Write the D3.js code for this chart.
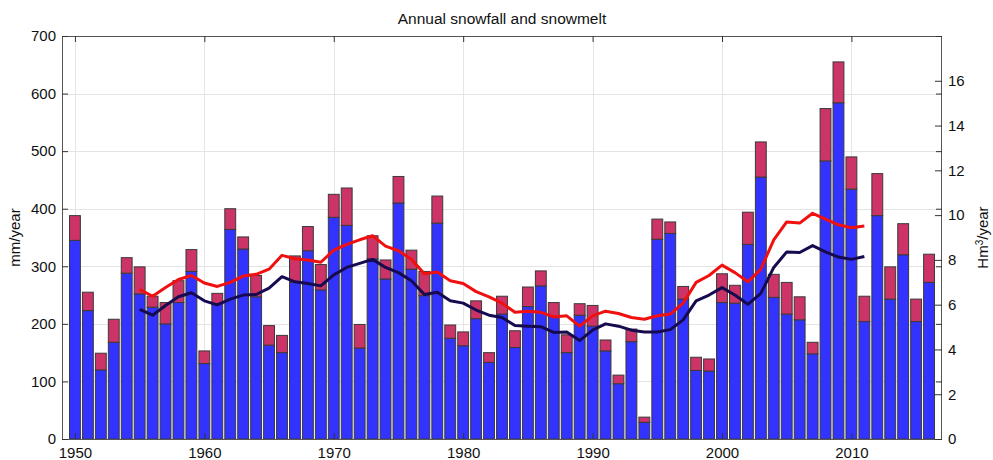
<!DOCTYPE html>
<html>
<head>
<meta charset="utf-8">
<script src="https://cdn.jsdelivr.net/npm/d3@7"></script>
<style>
  html, body { margin: 0; padding: 0; background: #fff; }
  svg { display: block; font-family: "Liberation Sans", Arial, Helvetica, sans-serif; }
</style>
</head>
<body>
<svg id="chart" width="993" height="460"></svg>
<script>
// Years of record
const years = d3.range(1950, 2017);

// Annual snowfall (mm/year) – full bar height
const snowfall = [
  388, 255, 149, 208, 315, 299, 248, 237, 275, 329,
  153, 253, 400, 351, 284, 197, 180, 318, 369, 303,
  425, 436, 199, 353, 311, 456, 328, 291, 422, 198,
  186, 240, 150, 248, 188, 264, 292, 237, 181, 235,
  232, 172, 111, 191, 38, 382, 377, 265, 142, 139,
  287, 267, 394, 516, 286, 272, 247, 168, 574, 655,
  490, 248, 461, 299, 374, 243, 321
];

// Annual snowmelt (mm/year) – lower part of each bar
const snowmelt = [
  345, 223, 120, 168, 288, 252, 229, 200, 237, 291,
  131, 235, 364, 330, 247, 163, 150, 272, 327, 259,
  385, 371, 158, 313, 278, 410, 295, 249, 375, 175,
  162, 209, 133, 217, 159, 230, 266, 213, 150, 215,
  196, 153, 96, 169, 29, 347, 357, 243, 119, 118,
  237, 236, 338, 455, 246, 217, 207, 148, 483, 584,
  434, 204, 388, 243, 320, 204, 272
];

// Running means plotted from 1955 to 2011 (mm/year)
const avgYears = d3.range(1955, 2012);
const snowfallAvg = [
  260, 248, 263, 277, 284, 271, 265, 272, 283, 286,
  295, 319, 313, 311, 307, 328, 338, 346, 353, 335,
  327, 312, 287, 290, 275, 270, 256, 247, 236, 220,
  222, 220, 212, 214, 196, 214, 222, 218, 211, 208,
  214, 217, 236, 272, 284, 302, 289, 273, 295, 346,
  377, 375, 392, 382, 372, 367, 370
];
const snowmeltAvg = [
  225, 215, 232, 247, 254, 240, 233, 243, 250, 251,
  262, 282, 273, 270, 266, 285, 298, 305, 312, 298,
  289, 275, 251, 255, 240, 236, 224, 215, 211, 197,
  196, 195, 185, 186, 171, 189, 200, 196, 189, 186,
  186, 190, 207, 240, 250, 263, 250, 234, 253, 298,
  325, 324, 336, 325, 316, 312, 317
];

const leftTicks = d3.range(0, 701, 100);
const rightTicks = d3.range(0, 17, 2);
const yearTicks = d3.range(1950, 2011, 10);

const svg = d3.select("#chart");
const margin = { left: 62, top: 36, right: 942, bottom: 439 };

const x = d3.scaleLinear().domain([1949, 2017]).range([margin.left, margin.right]);
const y = d3.scaleLinear().domain([0, 700]).range([margin.bottom, margin.top]);
const y2 = d3.scaleLinear().domain([0, 18]).range([margin.bottom, margin.top]);
const bw = (x(1) - x(0)) * 0.84;

// grid
const grid = svg.append("g").attr("stroke", "#e4e4e4").attr("stroke-width", 1);
grid.selectAll("line.h").data(leftTicks.slice(1, -1)).join("line")
  .attr("x1", margin.left).attr("x2", margin.right)
  .attr("y1", d => Math.round(y(d)) + 0.5).attr("y2", d => Math.round(y(d)) + 0.5);
grid.selectAll("line.v").data(yearTicks).join("line")
  .attr("y1", margin.top).attr("y2", margin.bottom)
  .attr("x1", d => Math.round(x(d)) + 0.5).attr("x2", d => Math.round(x(d)) + 0.5);

// bars
const bars = svg.append("g").attr("stroke", "#3a3a3a").attr("stroke-width", 1);
bars.selectAll("rect.melt").data(years).join("rect")
  .attr("x", d => x(d) - bw / 2)
  .attr("width", bw)
  .attr("y", (d, i) => y(snowmelt[i]))
  .attr("height", (d, i) => y(0) - y(snowmelt[i]))
  .attr("fill", "#3333ff");
bars.selectAll("rect.fall").data(years).join("rect")
  .attr("x", d => x(d) - bw / 2)
  .attr("width", bw)
  .attr("y", (d, i) => y(snowfall[i]))
  .attr("height", (d, i) => y(snowmelt[i]) - y(snowfall[i]))
  .attr("fill", "#cc3366");

// running means
const line = d3.line().x(d => x(d[0])).y(d => y(d[1]));
svg.append("path")
  .datum(avgYears.map((yr, i) => [yr, snowmeltAvg[i]]))
  .attr("d", line).attr("fill", "none")
  .attr("stroke", "#170b50").attr("stroke-width", 3).attr("stroke-linejoin", "round");
svg.append("path")
  .datum(avgYears.map((yr, i) => [yr, snowfallAvg[i]]))
  .attr("d", line).attr("fill", "none")
  .attr("stroke", "#f01010").attr("stroke-width", 3).attr("stroke-linejoin", "round");

// frame
svg.append("rect")
  .attr("x", margin.left + 0.5).attr("y", margin.top + 0.5)
  .attr("width", margin.right - margin.left - 1).attr("height", margin.bottom - margin.top)
  .attr("fill", "none").attr("stroke", "#555").attr("stroke-width", 1);

// axes
const fs = "15px";
const axL = svg.append("g").attr("transform", `translate(${margin.left},0)`)
  .call(d3.axisLeft(y).tickValues(leftTicks).tickSize(-6).tickPadding(6));
const axR = svg.append("g").attr("transform", `translate(${margin.right},0)`)
  .call(d3.axisRight(y2).tickValues(rightTicks).tickSize(-7).tickPadding(6));
const axRm = svg.append("g").attr("transform", `translate(${margin.right},0)`)
  .call(d3.axisRight(y).tickValues(leftTicks).tickSize(-6).tickFormat(""));
const axB = svg.append("g").attr("transform", `translate(0,${margin.bottom})`)
  .call(d3.axisBottom(x).tickValues(yearTicks).tickSize(-6).tickPadding(8).tickFormat(d3.format("d")));
const axT = svg.append("g").attr("transform", `translate(0,${margin.top})`)
  .call(d3.axisTop(x).tickValues(yearTicks).tickSize(-6).tickFormat(""));

[axL, axR, axRm, axB, axT].forEach(g => {
  g.select(".domain").remove();
  g.selectAll(".tick line").attr("stroke", "#333");
  g.selectAll("text").attr("font-size", fs).attr("fill", "#111")
    .attr("font-family", "'Liberation Sans', Arial, sans-serif");
});

// title and axis labels
svg.append("text").attr("x", (margin.left + margin.right) / 2).attr("y", 24)
  .attr("text-anchor", "middle").attr("font-size", "15.5px").attr("fill", "#111")
  .text("Annual snowfall and snowmelt");

svg.append("text")
  .attr("transform", `translate(20,${(margin.top + margin.bottom) / 2}) rotate(-90)`)
  .attr("text-anchor", "middle").attr("font-size", "15px").attr("fill", "#111")
  .text("mm/year");

const rl = svg.append("text")
  .attr("transform", `translate(988,${(margin.top + margin.bottom) / 2}) rotate(-90)`)
  .attr("text-anchor", "middle").attr("font-size", "15px").attr("fill", "#111");
rl.append("tspan").text("Hm");
rl.append("tspan").attr("baseline-shift", "super").attr("font-size", "10px").text("3");
rl.append("tspan").text("/year");
</script>
</body>
</html>
